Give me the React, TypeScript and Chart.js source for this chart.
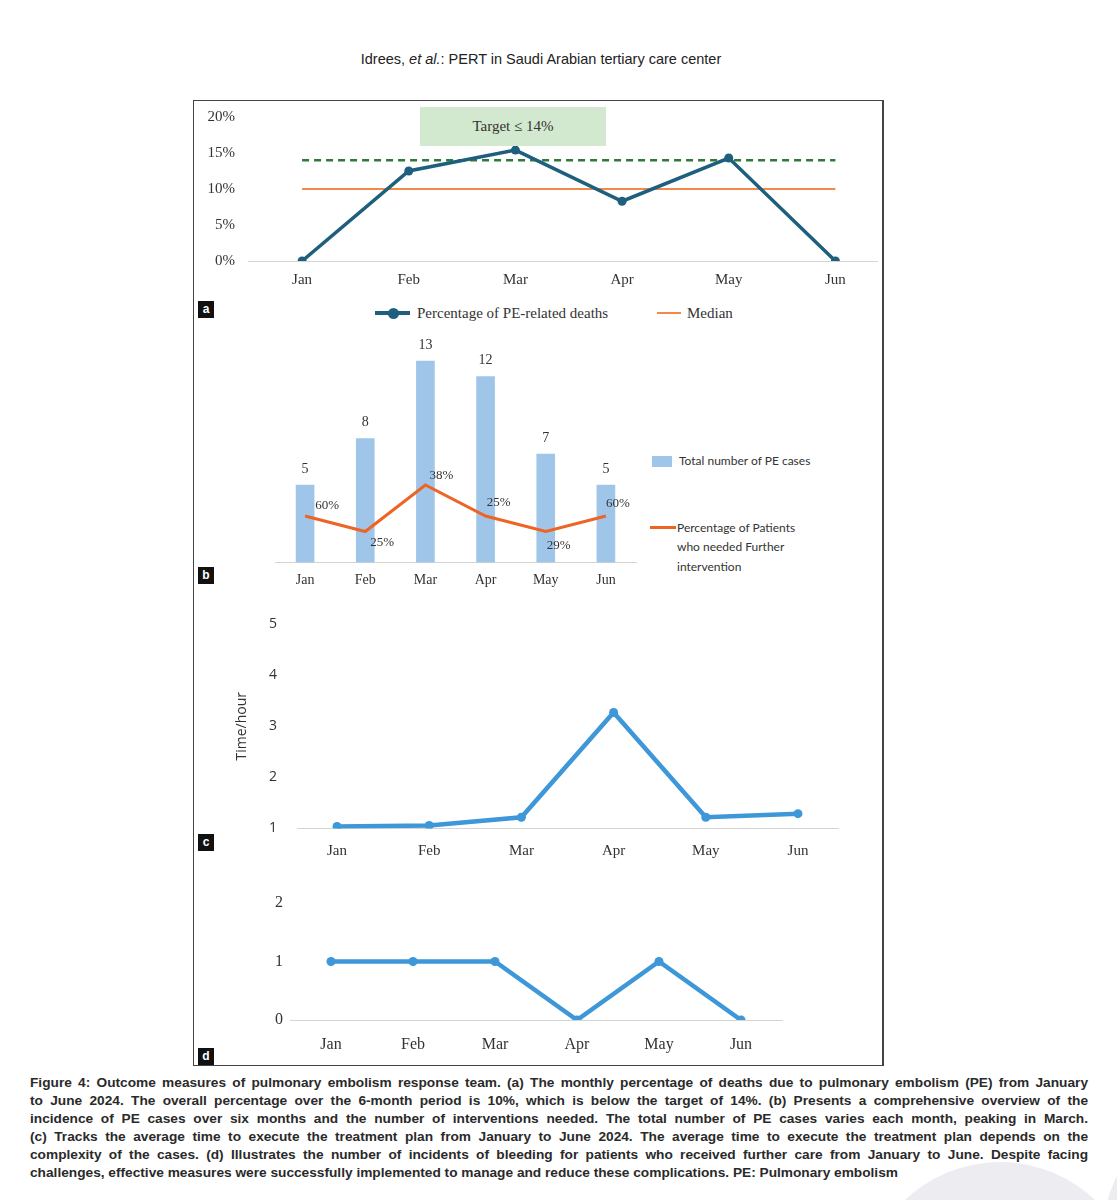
import React, { useEffect, useRef } from "react";
import { Chart, registerables } from "chart.js";

Chart.register(...registerables);

// ---------- data ----------
const MONTHS = ["Jan", "Feb", "Mar", "Apr", "May", "Jun"];

// (a) percentage of PE-related deaths
const DEATH_PCT = [0, 12.5, 15.4, 8.3, 14.3, 0];
const TARGET_PCT = 14;
const MEDIAN_PCT = 10;
const A_Y_TICKS = [0, 5, 10, 15, 20];

// (b) PE cases and patients needing further intervention
const PE_CASES = [5, 8, 13, 12, 7, 5];
const INTERVENTION_COUNT = [3, 2, 5, 3, 2, 3];
const INTERVENTION_PCT = [60, 25, 38, 25, 29, 60];

// (c) average time to execute treatment plan (hours)
const TIME_HOURS = [1.04, 1.06, 1.22, 3.27, 1.22, 1.29];
const C_Y_TICKS = [1, 2, 3, 4, 5];

// (d) bleeding incidents
const BLEEDING = [1, 1, 1, 0, 1, 0];
const D_Y_TICKS = [0, 1, 2];

const CAPTION_LINES = [
  "Figure 4: Outcome measures of pulmonary embolism response team. (a) The monthly percentage of deaths due to pulmonary embolism (PE) from January",
  "to June 2024. The overall percentage over the 6-month period is 10%, which is below the target of 14%. (b) Presents a comprehensive overview of the",
  "incidence of PE cases over six months and the number of interventions needed. The total number of PE cases varies each month, peaking in March.",
  "(c) Tracks the average time to execute the treatment plan from January to June 2024. The average time to execute the treatment plan depends on the",
  "complexity of the cases. (d) Illustrates the number of incidents of bleeding for patients who received further care from January to June. Despite facing",
  "challenges, effective measures were successfully implemented to manage and reduce these complications. PE: Pulmonary embolism",
];

// ---------- styles ----------
const SERIF = '"Liberation Serif", "Times New Roman", serif';
const SANS = '"Liberation Sans", Arial, sans-serif';
const TEAL = "#1d5f7d";
const GREEN_DASH = "#2f7a3a";
const MEDIAN_ORANGE = "#f08a4b";
const BAR_BLUE = "#9fc6e9";
const B_ORANGE = "#ee6424";
const LINE_BLUE = "#3d97d8";
const AXIS_GREY = "#d4d4d4";
const TEXT = "#333333";

const xy = (arr: number[]) => arr.map((v, i) => ({ x: i, y: v }));
const monthTicks = (s: any) => {
  s.ticks = MONTHS.map((_, i) => ({ value: i }));
};

function makeA(): any {
  return {
    type: "line",
    data: {
      datasets: [
        {
          label: "Percentage of PE-related deaths",
          data: xy(DEATH_PCT),
          borderColor: TEAL,
          backgroundColor: TEAL,
          pointBackgroundColor: TEAL,
          pointBorderWidth: 0,
          borderWidth: 3.5,
          pointRadius: 4.5,
        },
        {
          label: "Target",
          data: xy(MONTHS.map(() => TARGET_PCT)),
          borderColor: GREEN_DASH,
          borderWidth: 2.5,
          borderDash: [7, 5],
          pointRadius: 0,
        },
        {
          label: "Median",
          data: xy(MONTHS.map(() => MEDIAN_PCT)),
          borderColor: MEDIAN_ORANGE,
          borderWidth: 2,
          pointRadius: 0,
        },
      ],
    },
    options: {
      animation: false,
      responsive: false,
      maintainAspectRatio: false,
      layout: { padding: { left: 0, right: 5, top: 16, bottom: 0 } },
      plugins: { legend: { display: false }, tooltip: { enabled: false } },
      scales: {
        x: {
          type: "linear",
          min: -0.507,
          max: 5.39,
          afterBuildTicks: monthTicks,
          afterFit: (s: any) => {
            s.height = 30;
          },
          grid: { display: false, drawTicks: false },
          border: { display: true, color: AXIS_GREY, width: 1 },
          ticks: {
            autoSkip: false,
            maxRotation: 0,
            padding: 10,
            color: TEXT,
            font: { family: SERIF, size: 15 },
            callback: (v: number) => MONTHS[Math.round(v)] ?? "",
          },
        },
        y: {
          min: 0,
          max: 20,
          afterBuildTicks: (s: any) => {
            s.ticks = A_Y_TICKS.map((v) => ({ value: v }));
          },
          afterFit: (s: any) => {
            s.width = 54;
          },
          grid: { display: false, drawTicks: true, tickLength: 13 },
          border: { display: false },
          ticks: {
            padding: 0,
            color: TEXT,
            font: { family: SERIF, size: 15 },
            callback: (v: number) => v + "%",
          },
        },
      },
    },
  };
}

const B_PCT_OFFSETS = [
  [22, -10],
  [17, 11],
  [16, -9],
  [13, -13],
  [13, 14],
  [12, -12],
];

const bLabelsPlugin = {
  id: "bLabels",
  afterDatasetsDraw(chart: any) {
    const ctx = chart.ctx;
    ctx.save();
    ctx.fillStyle = TEXT;
    ctx.textAlign = "center";
    ctx.textBaseline = "middle";
    ctx.font = `14px ${SERIF}`;
    chart.getDatasetMeta(0).data.forEach((el: any, i: number) => {
      ctx.fillText(String(PE_CASES[i]), el.x, el.y - 16);
    });
    ctx.font = `13px ${SERIF}`;
    chart.getDatasetMeta(1).data.forEach((el: any, i: number) => {
      const [dx, dy] = B_PCT_OFFSETS[i];
      ctx.fillText(INTERVENTION_PCT[i] + "%", el.x + dx, el.y + dy);
    });
    ctx.restore();
  },
};

function makeB(): any {
  return {
    type: "bar",
    data: {
      labels: MONTHS,
      datasets: [
        {
          type: "bar",
          label: "Total number of PE cases",
          data: PE_CASES,
          backgroundColor: BAR_BLUE,
          barThickness: 18,
          order: 2,
        },
        {
          type: "line",
          label: "Percentage of Patients who needed Further intervention",
          data: INTERVENTION_COUNT,
          borderColor: B_ORANGE,
          borderWidth: 3,
          pointRadius: 0,
          order: 1,
        },
      ],
    },
    options: {
      animation: false,
      responsive: false,
      maintainAspectRatio: false,
      layout: { padding: { left: 81, right: 14, top: 15.5, bottom: 0 } },
      plugins: { legend: { display: false }, tooltip: { enabled: false } },
      scales: {
        x: {
          offset: true,
          afterFit: (s: any) => {
            s.height = 29.5;
          },
          grid: { display: false, drawTicks: false },
          border: { display: true, color: AXIS_GREY, width: 1 },
          ticks: {
            padding: 9,
            color: TEXT,
            font: { family: SERIF, size: 14 },
          },
        },
        y: { display: false, min: 0, max: 14 },
      },
    },
    plugins: [bLabelsPlugin],
  };
}

function makeC(): any {
  return {
    type: "line",
    data: {
      datasets: [
        {
          label: "Time/hour",
          data: xy(TIME_HOURS),
          borderColor: LINE_BLUE,
          backgroundColor: LINE_BLUE,
          pointBackgroundColor: LINE_BLUE,
          pointBorderWidth: 0,
          borderWidth: 4.5,
          pointRadius: 4.5,
        },
      ],
    },
    options: {
      animation: false,
      responsive: false,
      maintainAspectRatio: false,
      layout: { padding: { left: 0, right: 44, top: 24, bottom: 0 } },
      plugins: { legend: { display: false }, tooltip: { enabled: false } },
      scales: {
        x: {
          type: "linear",
          min: -0.434,
          max: 5.434,
          afterBuildTicks: monthTicks,
          afterFit: (s: any) => {
            s.height = 41.5;
          },
          grid: { display: false, drawTicks: false },
          border: { display: true, color: AXIS_GREY, width: 1 },
          ticks: {
            autoSkip: false,
            maxRotation: 0,
            padding: 13.5,
            color: TEXT,
            font: { family: SERIF, size: 15 },
            callback: (v: number) => MONTHS[Math.round(v)] ?? "",
          },
        },
        y: {
          min: 1,
          max: 5,
          afterBuildTicks: (s: any) => {
            s.ticks = C_Y_TICKS.map((v) => ({ value: v }));
          },
          afterFit: (s: any) => {
            s.width = 103;
          },
          grid: { display: false, drawTicks: true, tickLength: 20 },
          border: { display: false },
          title: {
            display: true,
            text: "Time/hour",
            color: TEXT,
            font: { family: '"Open Sans", sans-serif', size: 14 },
            padding: { top: 39.6, bottom: 0 },
          },
          ticks: {
            padding: 0,
            color: TEXT,
            font: { family: '"Open Sans", sans-serif', size: 14 },
          },
        },
      },
    },
  };
}

function makeD(): any {
  return {
    type: "line",
    data: {
      labels: MONTHS,
      datasets: [
        {
          label: "Bleeding incidents",
          data: BLEEDING,
          borderColor: LINE_BLUE,
          backgroundColor: LINE_BLUE,
          pointBackgroundColor: LINE_BLUE,
          pointBorderWidth: 0,
          borderWidth: 4.5,
          pointRadius: 4.5,
        },
      ],
    },
    options: {
      animation: false,
      responsive: false,
      maintainAspectRatio: false,
      layout: { padding: { left: 0, right: 100, top: 23, bottom: 0 } },
      plugins: { legend: { display: false }, tooltip: { enabled: false } },
      scales: {
        x: {
          offset: true,
          afterFit: (s: any) => {
            s.height = 40;
          },
          grid: { display: false, drawTicks: false },
          border: { display: true, color: AXIS_GREY, width: 1 },
          ticks: {
            padding: 15.4,
            color: TEXT,
            font: { family: SERIF, size: 16 },
          },
        },
        y: {
          min: 0,
          max: 2,
          afterBuildTicks: (s: any) => {
            s.ticks = D_Y_TICKS.map((v) => ({ value: v }));
          },
          afterFit: (s: any) => {
            s.width = 96;
          },
          grid: { display: false, drawTicks: true, tickLength: 7 },
          border: { display: false },
          ticks: {
            padding: 0,
            color: TEXT,
            font: { family: SERIF, size: 16 },
          },
        },
      },
    },
  };
}

function ChartBox(props: {
  left: number;
  top: number;
  width: number;
  height: number;
  make: () => any;
}) {
  const ref = useRef<HTMLCanvasElement>(null);
  useEffect(() => {
    const chart = new Chart(ref.current as HTMLCanvasElement, props.make());
    return () => chart.destroy();
  }, []);
  return (
    <canvas
      ref={ref}
      width={props.width}
      height={props.height}
      style={{
        position: "absolute",
        left: props.left,
        top: props.top,
        width: props.width,
        height: props.height,
      }}
    />
  );
}

function PanelTag({ letter, top }: { letter: string; top: number }) {
  return (
    <div
      style={{
        position: "absolute",
        left: 198,
        top,
        width: 16,
        height: 17,
        background: "#111",
        color: "#fff",
        fontFamily: SANS,
        fontWeight: "bold",
        fontSize: 12,
        lineHeight: "17px",
        textAlign: "center",
      }}
    >
      {letter}
    </div>
  );
}

const abs = (o: any): any => ({ position: "absolute", ...o });

export default function App() {
  return (
    <div
      style={{
        position: "absolute",
        left: 0,
        top: 0,
        width: 1117,
        height: 1200,
        background: "#fff",
        overflow: "hidden",
      }}
    >
      {/* decorative background shapes */}
      <div style={abs({ left: 862, top: 1162, width: 276, height: 276, borderRadius: "50%", background: "#ececf1" })} />
      <div style={abs({ left: 1100, top: 1080, width: 340, height: 340, borderRadius: "50%", background: "#ececf1" })} />

      {/* running header */}
      <div
        style={abs({
          left: 0,
          top: 50,
          width: 1082,
          textAlign: "center",
          fontFamily: SANS,
          fontSize: 14.5,
          lineHeight: "18px",
          color: "#222",
        })}
      >
        Idrees, <i>et al.</i>: PERT in Saudi Arabian tertiary care center
      </div>

      {/* figure frame */}
      <div
        style={abs({
          left: 193,
          top: 100,
          width: 688,
          height: 964,
          border: "1.5px solid #444",
          borderRightWidth: 2.5,
        })}
      />

      {/* panel a */}
      <ChartBox left={194} top={101} width={688} height={190} make={makeA} />
      <div
        style={abs({
          left: 420,
          top: 107,
          width: 186,
          height: 39,
          background: "#d3e9cf",
          fontFamily: SERIF,
          fontSize: 15,
          lineHeight: "39px",
          textAlign: "center",
          color: TEXT,
        })}
      >
        Target ≤ 14%
      </div>
      <div style={abs({ left: 375, top: 311, width: 35, height: 4, background: TEAL })} />
      <div style={abs({ left: 388, top: 307.5, width: 11, height: 11, borderRadius: "50%", background: TEAL })} />
      <div style={abs({ left: 417, top: 304, fontFamily: SERIF, fontSize: 15, lineHeight: "18px", color: TEXT, whiteSpace: "nowrap" })}>
        Percentage of PE-related deaths
      </div>
      <div style={abs({ left: 657, top: 312, width: 24, height: 2, background: MEDIAN_ORANGE })} />
      <div style={abs({ left: 687, top: 304, fontFamily: SERIF, fontSize: 15, lineHeight: "18px", color: TEXT })}>
        Median
      </div>
      <PanelTag letter="a" top={301} />

      {/* panel b */}
      <ChartBox left={194} top={330} width={456} height={262} make={makeB} />
      <div style={abs({ left: 652, top: 456, width: 20, height: 11, background: BAR_BLUE })} />
      <div style={abs({ left: 679, top: 452, fontFamily: "Lato, sans-serif", fontSize: 12, lineHeight: "18px", color: TEXT, whiteSpace: "nowrap" })}>
        Total number of PE cases
      </div>
      <div style={abs({ left: 650, top: 526, width: 26, height: 3, background: B_ORANGE })} />
      <div style={abs({ left: 677, top: 517.5, fontFamily: "Lato, sans-serif", fontSize: 12, lineHeight: "19.5px", color: TEXT, whiteSpace: "nowrap" })}>
        Percentage of Patients
        <br />
        who needed Further
        <br />
        intervention
      </div>
      <PanelTag letter="b" top={567} />

      {/* panel c */}
      <ChartBox left={194} top={600} width={688} height={270} make={makeC} />
      <PanelTag letter="c" top={834} />

      {/* panel d */}
      <ChartBox left={194} top={880} width={688} height={180} make={makeD} />
      <PanelTag letter="d" top={1048} />

      {/* caption */}
      {CAPTION_LINES.map((line, i) => (
        <div
          key={i}
          style={abs({
            left: 30,
            top: 1074 + i * 18,
            width: 1058,
            fontFamily: SANS,
            fontWeight: "bold",
            fontSize: 13.7,
            lineHeight: "18px",
            color: "#2a2a2a",
            whiteSpace: "nowrap",
            textAlign: i === CAPTION_LINES.length - 1 ? "left" : "justify",
            textAlignLast: i === CAPTION_LINES.length - 1 ? "left" : "justify",
          })}
        >
          {line}
        </div>
      ))}
    </div>
  );
}
